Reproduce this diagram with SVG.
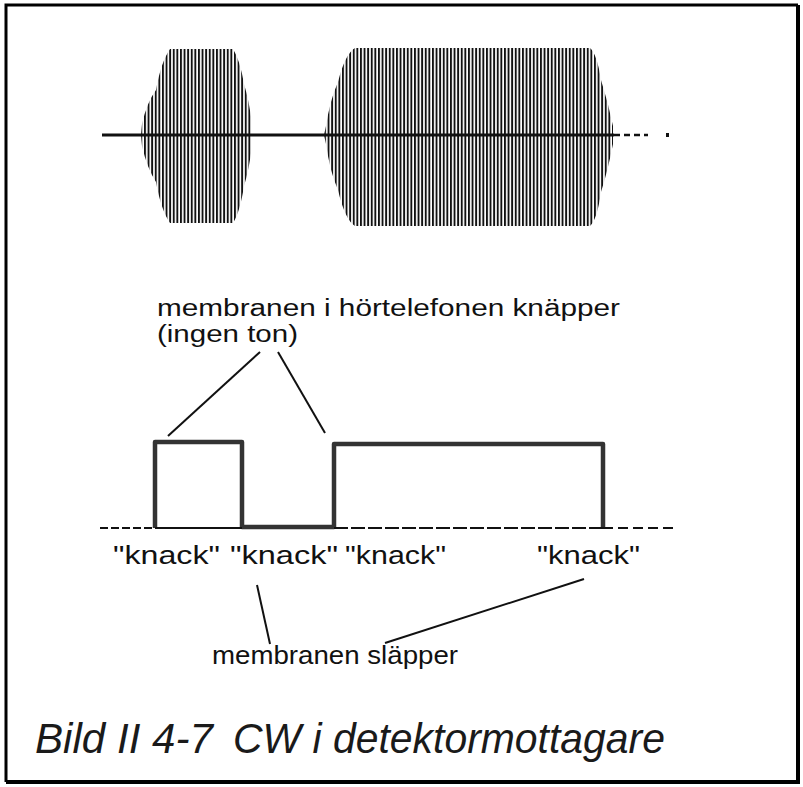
<svg xmlns="http://www.w3.org/2000/svg" width="803" height="787" viewBox="0 0 803 787">
<defs>
<pattern id="carrier" x="0" y="0" width="3.6" height="20" patternUnits="userSpaceOnUse">
<rect x="0" y="0" width="1.9" height="20" fill="#111"/>
</pattern>
<style>
.lbl{font-family:"Liberation Sans",Arial,sans-serif;fill:#111;font-size:26px}
.lbl2{font-family:"Liberation Sans",Arial,sans-serif;fill:#111;font-size:23px}
.cap{font-family:"Liberation Sans",Arial,sans-serif;fill:#1a1a1a;font-size:42px;font-style:italic}
.lead{stroke:#111;stroke-width:2;fill:none}
.pulse{stroke:#333;stroke-width:4.5;fill:none;stroke-linejoin:round}
.base{stroke:#111;stroke-width:2;fill:none}
</style>
</defs>
<rect width="803" height="787" fill="#fff"/>
<g id="frame">
<path d="M6,782 L6,5 L798,5" stroke="#000" stroke-width="3" fill="none"/>
<path d="M798,5 L798,782 L6,782" stroke="#000" stroke-width="4" fill="none"/>
</g>
<g id="signal-top">
<g id="burst1">
<path fill="url(#carrier)" d="M141,135 L142,124 Q147,102 156,90 Q161,62 170,49 L233,49 Q240,60 244,84 Q249,100 252,124 L252,146 Q249,170 244,186 Q240,212 233,223 L170,223 Q161,210 156,182 Q147,168 142,146 Z"/>
</g>
<g id="burst2">
<path fill="url(#carrier)" d="M324,135 L326,126 Q330,100 338,82 Q345,54 355,48 L590,48 Q597,54 601,80 Q608,102 613,126 L613,144 Q608,170 601,192 Q597,220 590,226 L355,226 Q345,220 338,190 Q330,172 326,144 Z"/>
</g>
<path d="M102,135 L614,135" stroke="#111" stroke-width="3"/>
<path d="M614,135 L648,135" stroke="#111" stroke-width="2.5" stroke-dasharray="6,4"/>
<rect x="666" y="133" width="3" height="4" fill="#111"/>
</g>
<g id="label-knapper">
<text class="lbl2" x="157" y="316" textLength="463" lengthAdjust="spacingAndGlyphs">membranen i hörtelefonen knäpper</text>
<text class="lbl2" x="157" y="342" textLength="141" lengthAdjust="spacingAndGlyphs">(ingen ton)</text>
</g>
<g id="signal-pulses">
<path d="M100,528 L155,528" class="base" stroke-dasharray="8,3"/>
<path class="pulse" d="M155,528 L155,442 L242,442 L242,527 L334,527 L334,444 L603,444 L603,529"/>
<path d="M155,528 L242,528" class="base"/>
<path d="M334,528 L603,528" class="base" stroke-dasharray="14,3"/>
<path d="M603,528 L673,528" class="base" stroke-dasharray="10,5"/>
</g>
<g id="knack-labels">
<text class="lbl" x="113" y="564" textLength="107" lengthAdjust="spacingAndGlyphs">"knack"</text>
<text class="lbl" x="230" y="564" textLength="108" lengthAdjust="spacingAndGlyphs">"knack"</text>
<text class="lbl" x="345" y="564" textLength="101" lengthAdjust="spacingAndGlyphs">"knack"</text>
<text class="lbl" x="537" y="564" textLength="103" lengthAdjust="spacingAndGlyphs">"knack"</text>
</g>
<g id="label-slapper">
<text class="lbl" x="212" y="664" textLength="246" lengthAdjust="spacingAndGlyphs">membranen släpper</text>
</g>
<g id="connectors">
<path class="lead" d="M260,352 L168,436"/>
<path class="lead" d="M278,352 L325,433"/>
<path class="lead" d="M257,585 L270,644"/>
<path class="lead" d="M584,579 L385,643"/>
</g>
<g id="caption">
<text class="cap" y="753"><tspan x="35" textLength="178" lengthAdjust="spacingAndGlyphs">Bild II 4-7</tspan><tspan x="233" textLength="432" lengthAdjust="spacingAndGlyphs">CW i detektormottagare</tspan></text>
</g>
</svg>
